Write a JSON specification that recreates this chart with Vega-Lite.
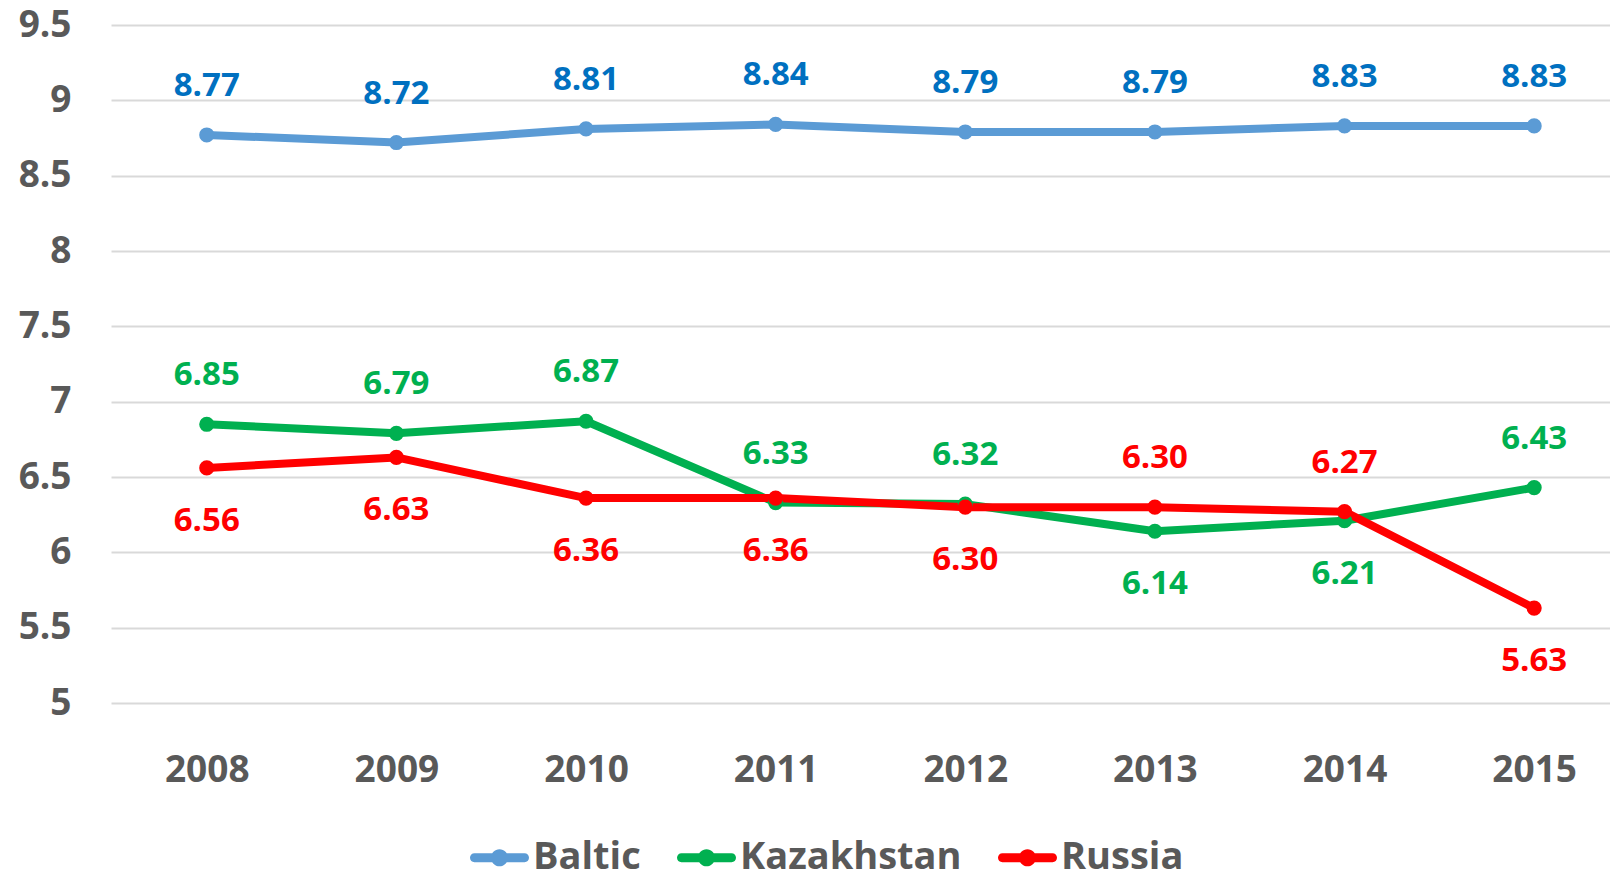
{
  "$schema": "https://vega.github.io/schema/vega-lite/v6.json",
  "width": 1499,
  "height": 678,
  "autosize": "none",
  "padding": {"left": 111, "top": 25, "right": 0, "bottom": 171},
  "background": "white",
  "config": {
    "view": {"stroke": null},
    "font": "Open Sans"
  },
  "data": {
    "values": [
      {"year": 2008, "series": "Baltic", "value": 8.77},
      {"year": 2009, "series": "Baltic", "value": 8.72},
      {"year": 2010, "series": "Baltic", "value": 8.81},
      {"year": 2011, "series": "Baltic", "value": 8.84},
      {"year": 2012, "series": "Baltic", "value": 8.79},
      {"year": 2013, "series": "Baltic", "value": 8.79},
      {"year": 2014, "series": "Baltic", "value": 8.83},
      {"year": 2015, "series": "Baltic", "value": 8.83},
      {"year": 2008, "series": "Kazakhstan", "value": 6.85},
      {"year": 2009, "series": "Kazakhstan", "value": 6.79},
      {"year": 2010, "series": "Kazakhstan", "value": 6.87},
      {"year": 2011, "series": "Kazakhstan", "value": 6.33},
      {"year": 2012, "series": "Kazakhstan", "value": 6.32},
      {"year": 2013, "series": "Kazakhstan", "value": 6.14},
      {"year": 2014, "series": "Kazakhstan", "value": 6.21},
      {"year": 2015, "series": "Kazakhstan", "value": 6.43},
      {"year": 2008, "series": "Russia", "value": 6.56},
      {"year": 2009, "series": "Russia", "value": 6.63},
      {"year": 2010, "series": "Russia", "value": 6.36},
      {"year": 2011, "series": "Russia", "value": 6.36},
      {"year": 2012, "series": "Russia", "value": 6.30},
      {"year": 2013, "series": "Russia", "value": 6.30},
      {"year": 2014, "series": "Russia", "value": 6.27},
      {"year": 2015, "series": "Russia", "value": 5.63}
    ]
  },
  "encoding": {
    "x": {
      "field": "year",
      "type": "quantitative",
      "scale": {"domain": [2007.495, 2015.4], "nice": false, "zero": false},
      "axis": {
        "title": null,
        "values": [2008, 2009, 2010, 2011, 2012, 2013, 2014, 2015],
        "format": "d",
        "grid": false,
        "domain": false,
        "ticks": false,
        "labelFont": "Open Sans",
        "labelFontWeight": "bold",
        "labelFontSize": 37,
        "labelColor": "#595959",
        "labelBaseline": "middle",
        "labelPadding": 67,
        "labelFlush": false,
        "labelOverlap": false
      }
    },
    "y": {
      "field": "value",
      "type": "quantitative",
      "scale": {"domain": [5, 9.5], "nice": false, "zero": false},
      "axis": {
        "title": null,
        "values": [5, 5.5, 6, 6.5, 7, 7.5, 8, 8.5, 9, 9.5],
        "format": "~g",
        "grid": true,
        "gridColor": "#D9D9D9",
        "gridWidth": 2,
        "domain": false,
        "ticks": false,
        "labelFont": "Open Sans",
        "labelFontWeight": "bold",
        "labelFontSize": 37,
        "labelColor": "#595959",
        "labelPadding": 40,
        "labelFlush": false,
        "labelOverlap": false
      }
    }
  },
  "layer": [
    {
      "mark": {"type": "line", "strokeWidth": 8, "strokeCap": "round", "strokeJoin": "round"},
      "encoding": {
        "color": {
          "field": "series",
          "type": "nominal",
          "scale": {"domain": ["Baltic", "Kazakhstan", "Russia"], "range": ["#5B9BD5", "#00B050", "#FF0000"]},
          "legend": {
            "title": null,
            "orient": "none",
            "direction": "horizontal",
            "legendX": 359,
            "legendY": 803,
            "symbolType": "M-0.85,-0.15 L0.85,-0.15 A0.15,0.15 0 0,1 0.85,0.15 L-0.85,0.15 A0.15,0.15 0 0,1 -0.85,-0.15 Z M0.29,0 A0.29,0.29 0 1,1 -0.29,0 A0.29,0.29 0 1,1 0.29,0 Z",
            "symbolSize": 3481,
            "symbolStrokeWidth": 0,
            "labelFont": "Open Sans",
            "labelFontWeight": "bold",
            "labelFontSize": 38,
            "labelColor": "#595959",
            "labelOffset": 4,
            "columnPadding": 36,
            "labelLimit": 400,
            "encode": {
              "symbols": {"update": {"fill": {"scale": "color", "field": "value"}, "strokeWidth": {"value": 0}, "opacity": {"value": 1}}}
            }
          }
        }
      }
    },
    {
      "mark": {"type": "point", "filled": true, "size": 230, "opacity": 1},
      "encoding": {
        "color": {"field": "series", "type": "nominal", "legend": null}
      }
    },
    {
      "transform": [
        {"filter": "datum.series == 'Baltic' || (datum.series == 'Kazakhstan' && datum.year != 2013 && datum.year != 2014) || (datum.series == 'Russia' && (datum.year == 2013 || datum.year == 2014))"}
      ],
      "mark": {"type": "text", "font": "Open Sans", "fontWeight": "bold", "fontSize": 33, "baseline": "middle", "align": "center", "dy": -49},
      "encoding": {
        "text": {"field": "value", "type": "quantitative", "format": ".2f"},
        "fill": {
          "field": "series",
          "type": "nominal",
          "scale": {"domain": ["Baltic", "Kazakhstan", "Russia"], "range": ["#0070C0", "#00B050", "#FF0000"]},
          "legend": null
        }
      }
    },
    {
      "transform": [
        {"filter": "!(datum.series == 'Baltic' || (datum.series == 'Kazakhstan' && datum.year != 2013 && datum.year != 2014) || (datum.series == 'Russia' && (datum.year == 2013 || datum.year == 2014)))"}
      ],
      "mark": {"type": "text", "font": "Open Sans", "fontWeight": "bold", "fontSize": 33, "baseline": "middle", "align": "center", "dy": 53},
      "encoding": {
        "text": {"field": "value", "type": "quantitative", "format": ".2f"},
        "fill": {
          "field": "series",
          "type": "nominal",
          "scale": {"domain": ["Baltic", "Kazakhstan", "Russia"], "range": ["#0070C0", "#00B050", "#FF0000"]},
          "legend": null
        }
      }
    }
  ]
}
